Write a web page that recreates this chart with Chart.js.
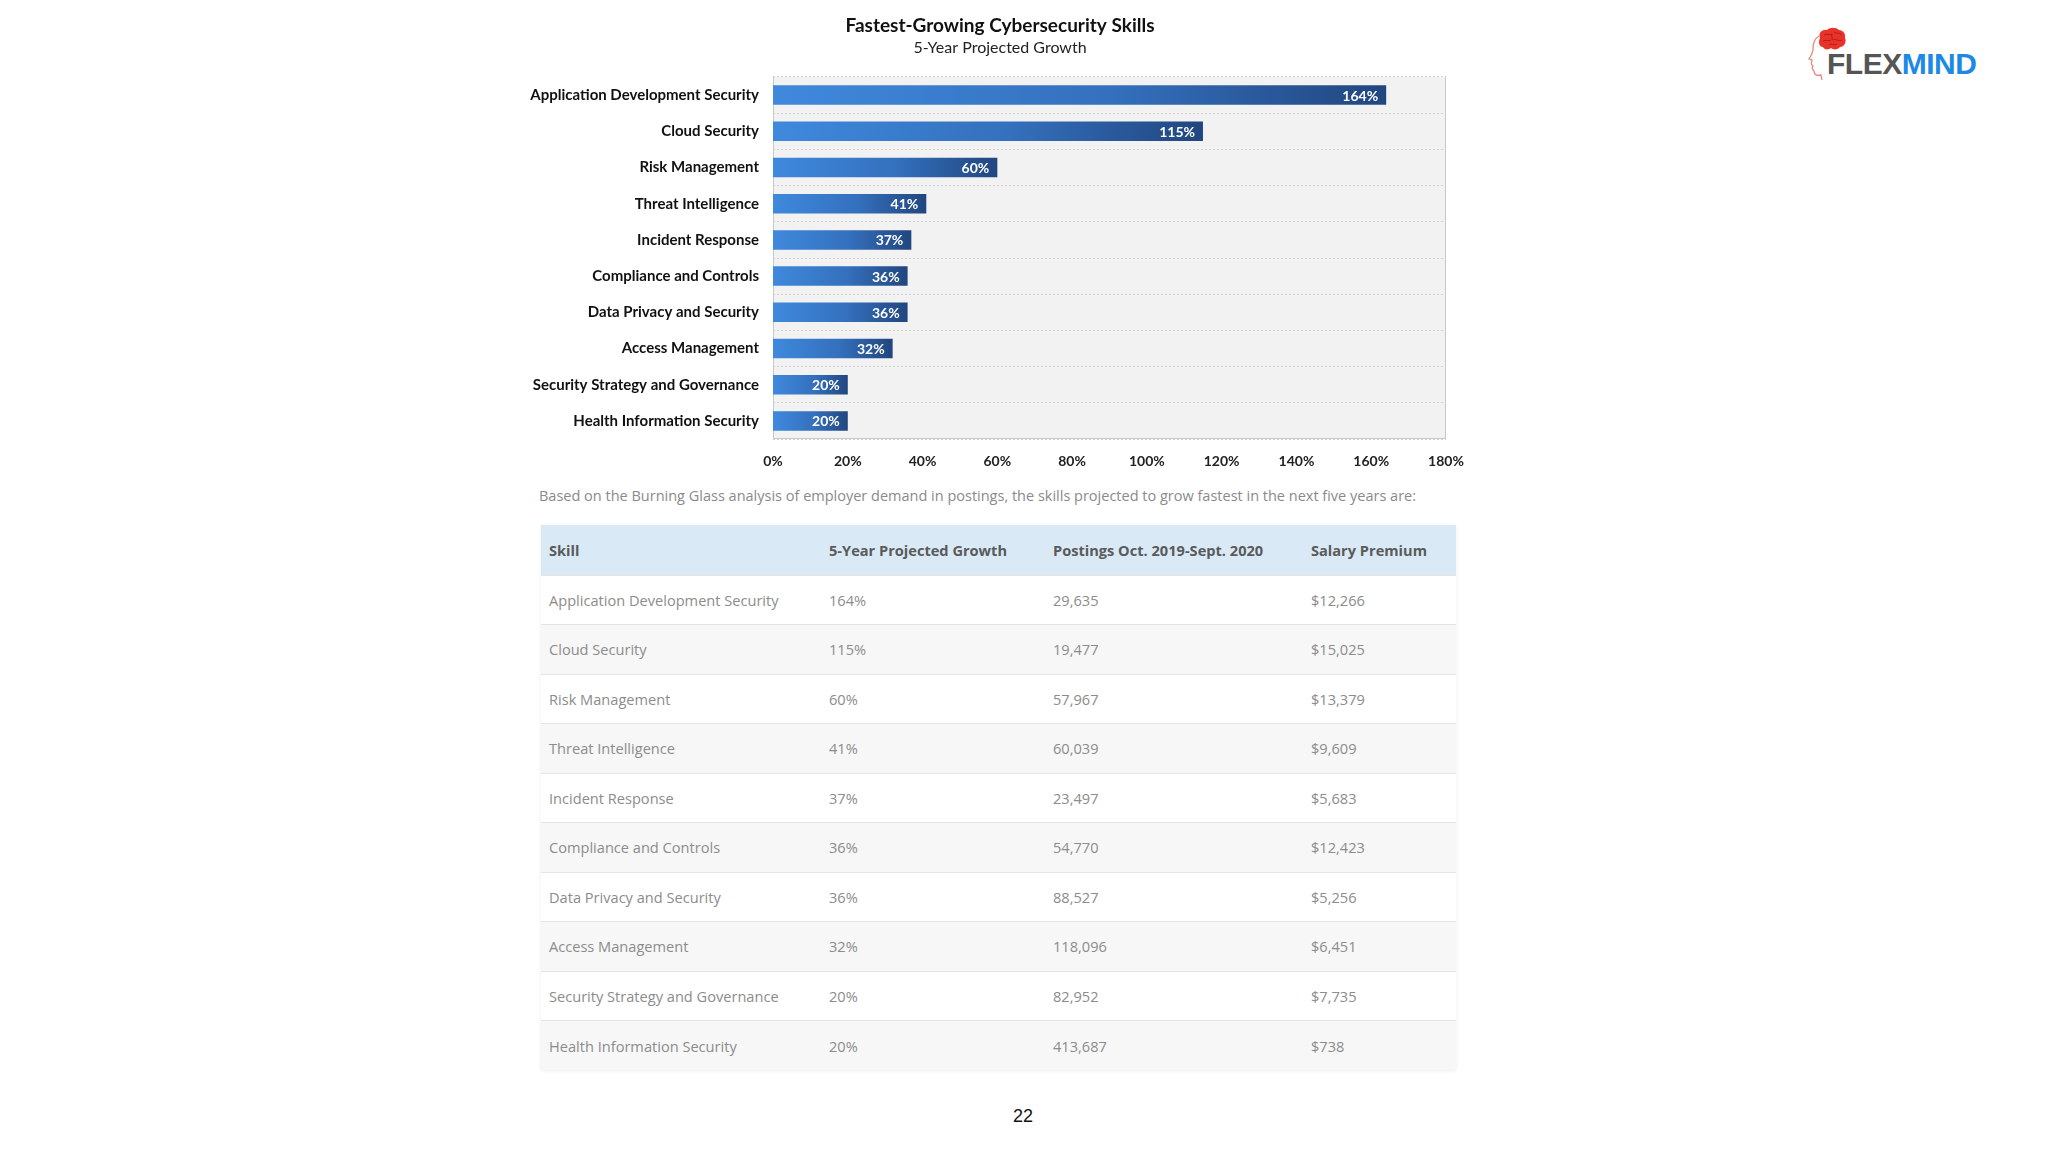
<!DOCTYPE html>
<html>
<head>
<meta charset="utf-8">
<title>Fastest-Growing Cybersecurity Skills</title>
<script src="https://cdn.jsdelivr.net/npm/chart.js@4.4.0/dist/chart.umd.min.js"></script>
<style>
  html, body { margin: 0; padding: 0; background: #fff; }
  body { width: 2048px; height: 1152px; position: relative; overflow: hidden; font-family: "Open Sans", sans-serif; }
  #chartBox { position: absolute; left: 500px; top: 0; width: 1000px; height: 480px; }
  #note { position: absolute; left: 539px; top: 486px; font-size: 14.5px; color: #8a8a8a; white-space: nowrap; }
  #tbl { position: absolute; left: 541px; top: 525px; width: 915px; border-collapse: collapse; table-layout: fixed;
         box-shadow: 0 1px 4px rgba(0,0,0,0.07); font-size: 14.6px; }
  #tbl th { background: #d9eaf6; text-align: left; padding: 0 0 0 8px; font-weight: 700; color: #5a5a5a; }
  #tbl td { border-top: 1px solid #e4e4e4; padding: 0 0 0 8px; color: #8c8c8c; }
  #tbl thead tr { height: 50px; }
  #tbl tbody tr { height: 49.5px; }
  #tbl tbody tr:nth-child(odd) { background: #fff; }
  #tbl tbody tr:nth-child(even) { background: #f7f7f7; }
  #logo { position: absolute; left: 1800px; top: 24px; width: 200px; height: 60px; }
  #logoText { position: absolute; left: 27px; top: 25px; font-family: "Liberation Sans", Arial, sans-serif;
              font-weight: 700; font-size: 30px; line-height: 30px; letter-spacing: -0.5px; }
  #pageNo { position: absolute; left: 1003px; top: 1106px; width: 40px; text-align: center;
            font-family: "Liberation Sans", Arial, sans-serif; font-size: 18px; color: #111; }
</style>
</head>
<body>
<div id="chartBox"><canvas id="growthChart" width="1000" height="480"></canvas></div>
<div id="note">Based on the Burning Glass analysis of employer demand in postings, the skills projected to grow fastest in the next five years are:</div>
<table id="tbl">
  <colgroup><col style="width:280px"><col style="width:224px"><col style="width:258px"><col style="width:153px"></colgroup>
  <thead><tr id="tblHead"></tr></thead>
  <tbody id="tblBody"></tbody>
</table>
<div id="logo">
  <svg width="48" height="60" viewBox="0 0 48 60" style="position:absolute;left:0;top:0">
    <!-- contorno da cabeça -->
    <path d="M19 12 C14 15 13 20 13 25 C13 29 11 32 9 35 L12 36 C11 39 11 41 13 42 C11 44 13 46 14 47 C14 51 17 52 21 51 L22 56"
          fill="none" stroke="#e58a80" stroke-width="1.3"/>
    <!-- cérebro -->
    <path d="M20 14 C18 9 22 5 27 6 C30 3 36 3 39 6 C43 6 46 10 45 14 C47 18 44 23 40 23 C38 26 33 26 31 24
             C29 26 24 26 23 23 C19 23 18 18 20 14 Z" fill="#e8322a"/>
    <path d="M24 11 C27 9 29 12 32 10 M34 8 C36 10 39 8 42 11 M23 17 C26 15 28 18 31 16 M33 16 C36 14 38 18 42 16
             M29 21 C31 19 34 22 37 20 M32 10 C31 13 33 14 32 16" fill="none" stroke="#a31b16" stroke-width="0.8"/>
  </svg>
  <div id="logoText"><span style="color:#555">FLEX</span><span style="color:#1e88e5">MIND</span></div>
</div>
<div id="pageNo">22</div>
<script>
// Dados do gráfico
const chartTitle = "Fastest-Growing Cybersecurity Skills";
const chartSubtitle = "5-Year Projected Growth";
const skills = [
  "Application Development Security",
  "Cloud Security",
  "Risk Management",
  "Threat Intelligence",
  "Incident Response",
  "Compliance and Controls",
  "Data Privacy and Security",
  "Access Management",
  "Security Strategy and Governance",
  "Health Information Security"
];
const growth = [164, 115, 60, 41, 37, 36, 36, 32, 20, 20];
const postings = ["29,635", "19,477", "57,967", "60,039", "23,497", "54,770", "88,527", "118,096", "82,952", "413,687"];
const premiums = ["$12,266", "$15,025", "$13,379", "$9,609", "$5,683", "$12,423", "$5,256", "$6,451", "$7,735", "$738"];
const tableHeaders = ["Skill", "5-Year Projected Growth", "Postings Oct. 2019-Sept. 2020", "Salary Premium"];
const xMin = 0, xMax = 180, xStep = 20;

// Tabela
const head = document.getElementById("tblHead");
tableHeaders.forEach(h => {
  const th = document.createElement("th");
  th.textContent = h;
  head.appendChild(th);
});
const body = document.getElementById("tblBody");
skills.forEach((s, i) => {
  const tr = document.createElement("tr");
  [s, growth[i] + "%", postings[i], premiums[i]].forEach(v => {
    const td = document.createElement("td");
    td.textContent = v;
    tr.appendChild(td);
  });
  body.appendChild(tr);
});

// Título centralizado no canvas
const titles = {
  id: "titles",
  afterDraw(chart) {
    const { ctx } = chart;
    const cx = chart.width / 2;
    ctx.save();
    ctx.textAlign = "center";
    ctx.textBaseline = "middle";
    ctx.fillStyle = "#111";
    ctx.font = "bold 19px Lato";
    ctx.fillText(chartTitle, cx, 26);
    ctx.fillStyle = "#222";
    ctx.font = "16px Lato";
    ctx.fillText(chartSubtitle, cx, 48);
    ctx.restore();
  }
};

// Fundo e borda da área do gráfico
const plotFrame = {
  id: "plotFrame",
  beforeDraw(chart) {
    const { ctx, chartArea: a } = chart;
    ctx.save();
    ctx.fillStyle = "#f2f2f2";
    ctx.fillRect(a.left, a.top, a.right - a.left, a.bottom - a.top);
    ctx.restore();
  },
  beforeDatasetsDraw(chart) {
    const { ctx, chartArea: a } = chart;
    ctx.save();
    ctx.strokeStyle = "#c8c8c8";
    ctx.lineWidth = 1;
    ctx.beginPath();
    ctx.moveTo(a.left + 0.5, a.top);
    ctx.lineTo(a.left + 0.5, a.bottom - 0.5);
    ctx.lineTo(a.right - 0.5, a.bottom - 0.5);
    ctx.lineTo(a.right - 0.5, a.top);
    ctx.stroke();
    ctx.restore();
  }
};

// Rótulos dentro das barras
const barLabels = {
  id: "barLabels",
  afterDatasetsDraw(chart) {
    const { ctx } = chart;
    const meta = chart.getDatasetMeta(0);
    ctx.save();
    ctx.fillStyle = "#ffffff";
    ctx.font = "bold 14px Lato";
    ctx.textAlign = "right";
    ctx.textBaseline = "middle";
    meta.data.forEach((bar, i) => {
      ctx.fillText(growth[i] + "%", bar.x - 8, bar.y + 1);
    });
    ctx.restore();
  }
};

function barGradient(context) {
  const chart = context.chart;
  if (!chart.chartArea || context.type !== "data" || !chart.scales.x) return "#3a80d5";
  const x = chart.scales.x;
  const x0 = x.getPixelForValue(0);
  const x1 = x.getPixelForValue(context.raw);
  const g = chart.ctx.createLinearGradient(x0, 0, x1, 0);
  g.addColorStop(0, "#3f89dd");
  g.addColorStop(0.55, "#3470bd");
  g.addColorStop(1, "#21467f");
  return g;
}

new Chart(document.getElementById("growthChart"), {
  type: "bar",
  data: {
    labels: skills,
    datasets: [{
      label: chartSubtitle,
      data: growth,
      backgroundColor: barGradient,
      borderWidth: 0,
      barPercentage: 0.54,
      categoryPercentage: 1
    }]
  },
  options: {
    indexAxis: "y",
    responsive: false,
    animation: false,
    layout: { padding: { top: 77, right: 54, bottom: 1, left: 0 } },
    plugins: {
      legend: { display: false },
      tooltip: { enabled: false },
      title: { display: false }
    },
    scales: {
      x: {
        min: xMin,
        max: xMax,
        ticks: {
          stepSize: xStep,
          callback: v => v + "%",
          padding: 14,
          color: "#222",
          font: { family: "Lato", size: 14, weight: "bold" }
        },
        grid: { display: false, drawTicks: false },
        border: { display: false },
        afterFit: s => { s.height = 40; }
      },
      y: {
        ticks: {
          padding: 14,
          color: "#111",
          font: { family: "Lato", size: 15, weight: "bold" }
        },
        grid: { color: "#cfcfcf", lineWidth: 1, drawTicks: false },
        border: { display: false, dash: [2, 2] },
        afterFit: s => { s.width = 273; }
      }
    }
  },
  plugins: [plotFrame, barLabels, titles]
});
</script>
</body>
</html>
